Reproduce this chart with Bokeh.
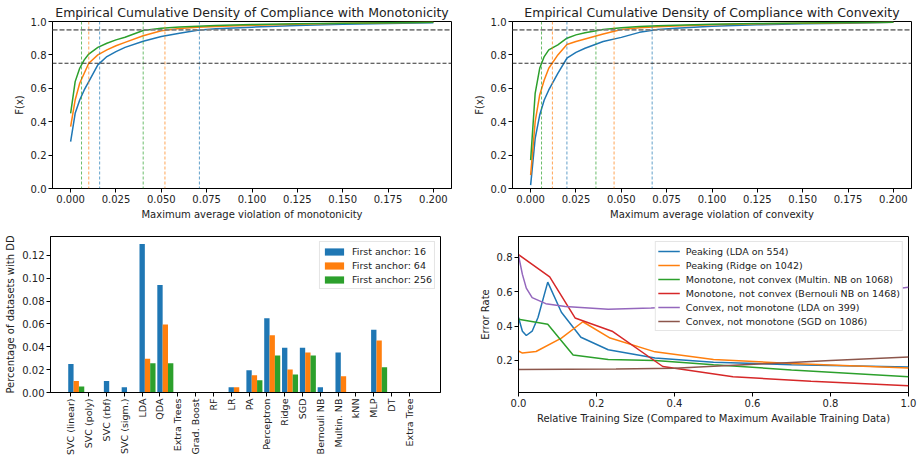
import numpy as np
from bokeh.plotting import figure
from bokeh.layouts import column, row
from bokeh.models import FixedTicker, Span, Legend, LegendItem, Range1d, NumeralTickFormatter
from bokeh.embed import file_html
from bokeh.resources import INLINE

FONT = "DejaVu Sans"
BLUE, ORANGE, GREEN, RED, PURPLE, BROWN = "#1f77b4", "#ff7f0e", "#2ca02c", "#d62728", "#9467bd", "#8c564b"

# ---------------- ECDF data ----------------
ecdf_x = [0.0, 0.0025, 0.005, 0.0075, 0.01, 0.015, 0.02, 0.025, 0.03, 0.04, 0.05,
          0.06, 0.07, 0.08, 0.10, 0.125, 0.15, 0.175, 0.20]
mono_16 = [0.28, 0.45, 0.53, 0.59, 0.64, 0.74, 0.79, 0.82, 0.845, 0.882, 0.91,
           0.93, 0.948, 0.956, 0.966, 0.976, 0.983, 0.988, 0.992]
mono_64 = [0.37, 0.53, 0.63, 0.69, 0.75, 0.80, 0.83, 0.855, 0.875, 0.915, 0.945,
           0.958, 0.965, 0.97, 0.977, 0.984, 0.989, 0.992, 0.995]
mono_256 = [0.45, 0.64, 0.72, 0.77, 0.805, 0.845, 0.87, 0.89, 0.906, 0.946, 0.96,
            0.967, 0.972, 0.976, 0.982, 0.987, 0.99, 0.993, 0.996]
conv_16 = [0.02, 0.30, 0.44, 0.53, 0.59, 0.69, 0.78, 0.815, 0.84, 0.88, 0.905,
           0.935, 0.952, 0.96, 0.972, 0.98, 0.986, 0.99, 0.995]
conv_64 = [0.08, 0.40, 0.56, 0.65, 0.72, 0.80, 0.862, 0.88, 0.895, 0.925, 0.952,
           0.962, 0.968, 0.973, 0.98, 0.986, 0.99, 0.993, 0.995]
conv_256 = [0.17, 0.57, 0.72, 0.79, 0.83, 0.86, 0.90, 0.92, 0.933, 0.952, 0.963,
            0.97, 0.975, 0.978, 0.983, 0.988, 0.991, 0.994, 0.996]
mono_q75 = [0.016, 0.010, 0.006]
mono_q95 = [0.071, 0.052, 0.040]
conv_q75 = [0.020, 0.012, 0.006]
conv_q95 = [0.067, 0.046, 0.036]
levels = [0.75, 0.95]
ecdf_xticks = [0.0, 0.025, 0.05, 0.075, 0.1, 0.125, 0.15, 0.175, 0.2]
unit_ticks = [0.0, 0.2, 0.4, 0.6, 0.8, 1.0]

# ---------------- bar data ----------------
learners = ["SVC (linear)", "SVC (poly)", "SVC (rbf)", "SVC (sigm.)", "LDA", "QDA",
            "Extra Trees", "Grad. Boost", "RF", "LR", "PA", "Perceptron", "Ridge",
            "SGD", "Bernouli NB", "Multin. NB", "kNN", "MLP", "DT", "Extra Tree"]
anchor_16 = [0.025, 0, 0.01, 0.0045, 0.13, 0.094, 0, 0, 0, 0.0045, 0.0195, 0.065,
             0.0392, 0.0392, 0.0045, 0.035, 0, 0.055, 0, 0]
anchor_64 = [0.01, 0, 0, 0, 0.0296, 0.0595, 0, 0, 0, 0.0045, 0.0152, 0.05,
             0.0201, 0.035, 0, 0.0142, 0, 0.0455, 0, 0]
anchor_256 = [0.0052, 0, 0, 0, 0.0256, 0.0256, 0, 0, 0, 0, 0.0108, 0.0323,
              0.0158, 0.0323, 0, 0, 0, 0.022, 0, 0]
bar_yticks = [0.0, 0.02, 0.04, 0.06, 0.08, 0.10, 0.12]

# ---------------- learning curves ----------------
lda554_x = [0, 0.01, 0.02, 0.035, 0.05, 0.075, 0.11, 0.16, 0.23, 0.35, 0.5, 0.7, 1.0]
lda554_y = [0.45, 0.37, 0.345, 0.37, 0.45, 0.655, 0.48, 0.335, 0.262, 0.215, 0.19, 0.175, 0.162]
ridge_x = [0, 0.01, 0.045, 0.11, 0.165, 0.235, 0.35, 0.5, 0.7, 1.0]
ridge_y = [0.255, 0.243, 0.252, 0.33, 0.425, 0.33, 0.25, 0.205, 0.183, 0.157]
multin_x = [0, 0.075, 0.14, 0.23, 0.35, 0.5, 0.7, 1.0]
multin_y = [0.44, 0.41, 0.232, 0.205, 0.2, 0.175, 0.145, 0.105]
bern_x = [0, 0.08, 0.145, 0.24, 0.37, 0.55, 0.75, 1.0]
bern_y = [0.815, 0.685, 0.447, 0.37, 0.165, 0.105, 0.08, 0.053]
lda399_x = [0, 0.01, 0.02, 0.035, 0.07, 0.12, 0.23, 0.34, 0.5, 0.7, 0.85, 1.0]
lda399_y = [0.81, 0.70, 0.62, 0.565, 0.53, 0.513, 0.497, 0.505, 0.52, 0.55, 0.585, 0.625]
sgd_x = [0, 0.25, 0.4, 0.5, 0.65, 0.8, 1.0]
sgd_y = [0.148, 0.15, 0.155, 0.167, 0.183, 0.2, 0.22]
curve_labels = ["Peaking (LDA on 554)", "Peaking (Ridge on 1042)",
                "Monotone, not convex (Multin. NB on 1068)",
                "Monotone, not convex (Bernouli NB on 1468)",
                "Convex, not monotone (LDA on 399)",
                "Convex, not monotone (SGD on 1086)"]

TICK_FS = "10px"
LABEL_FS = "10px"
TEXT = "#222222"


def style(p, xticks=None, xfmt=None, yticks=None, yfmt=None):
    p.xgrid.visible = False
    p.ygrid.visible = False
    p.outline_line_color = "black"
    p.outline_line_alpha = 1
    p.outline_line_width = 1
    p.background_fill_color = "white"
    p.border_fill_color = "white"
    for ax in (p.xaxis[0], p.yaxis[0]):
        ax.major_tick_in = 0
        ax.major_tick_out = 4
        ax.minor_tick_line_color = None
        ax.axis_line_color = "black"
        ax.major_tick_line_color = "black"
        ax.major_label_text_font = FONT
        ax.major_label_text_font_size = TICK_FS
        ax.major_label_text_color = TEXT
        ax.major_label_standoff = 2
        ax.axis_label_text_font = FONT
        ax.axis_label_text_font_size = LABEL_FS
        ax.axis_label_text_font_style = "normal"
        ax.axis_label_text_color = TEXT
        ax.axis_label_standoff = 3
    if xticks is not None:
        p.xaxis.ticker = FixedTicker(ticks=xticks)
    if xfmt is not None:
        p.xaxis.formatter = NumeralTickFormatter(format=xfmt)
    if yticks is not None:
        p.yaxis.ticker = FixedTicker(ticks=yticks)
    if yfmt is not None:
        p.yaxis.formatter = NumeralTickFormatter(format=yfmt)
    p.title.text_font = FONT
    p.title.text_font_size = "12.5px"
    p.title.text_font_style = "normal"
    p.title.text_color = TEXT
    p.title.align = "center"


def ecdf_fig(title, xlabel, series, q75, q95, width, bl, br):
    p = figure(width=width, height=226, output_backend="svg", toolbar_location=None,
               x_range=Range1d(-0.01, 0.21), y_range=Range1d(0, 1),
               title=title, min_border_left=bl, min_border_right=br,
               min_border_top=21, min_border_bottom=38)
    p.title.standoff = 3
    p.title.offset = 0
    style(p, ecdf_xticks, "0.000", [0, 0.2, 0.4, 0.6, 0.8, 1.0], "0.0")
    p.xaxis.axis_label = xlabel
    p.yaxis.axis_label = "F(x)"
    cols = [BLUE, ORANGE, GREEN]
    for ys, c in zip(series, cols):
        p.line(ecdf_x, ys, line_color=c, line_width=1.5)
    for v, c in zip(q75 + q95, cols + cols):
        p.add_layout(Span(location=v, dimension="height", line_color=c, line_alpha=0.7,
                          line_width=1, line_dash="3 2"))
    p.add_layout(Span(location=levels[0], dimension="width", line_color="#333333",
                      line_width=1.1, line_dash="4 2"))
    p.add_layout(Span(location=levels[1], dimension="width", line_color="#7f7f7f",
                      line_width=1.6, line_dash="5 2"))
    return p


p1 = ecdf_fig("Empirical Cumulative Density of Compliance with Monotonicity",
              "Maximum average violation of monotonicity",
              [mono_16, mono_64, mono_256], mono_q75, mono_q95, 460, 52, 9)
p2 = ecdf_fig("Empirical Cumulative Density of Compliance with Convexity",
              "Maximum average violation of convexity",
              [conv_16, conv_64, conv_256], conv_q75, conv_q95, 461, 52, 10)

# ---------------- bars ----------------
n = len(learners)
idx = np.arange(n)
bw = 0.3
p3 = figure(width=460, height=231, output_backend="svg", toolbar_location=None,
            x_range=Range1d(-1.145, 20.745), y_range=Range1d(0, 0.1365),
            min_border_left=50, min_border_right=20, min_border_top=10, min_border_bottom=65)
style(p3, list(range(n)), None, bar_yticks, "0.00")
p3.xaxis.major_label_overrides = {i: name for i, name in enumerate(learners)}
p3.xaxis.major_label_orientation = np.pi / 2
p3.xaxis.major_label_text_font_size = "9.5px"
p3.yaxis.axis_label = "Percentage of datasets with DD"
items = []
for k, (vals, c, lab) in enumerate(zip([anchor_16, anchor_64, anchor_256], [BLUE, ORANGE, GREEN],
                                      ["First anchor: 16", "First anchor: 64", "First anchor: 256"])):
    r = p3.vbar(x=idx + k * bw, top=vals, width=bw, fill_color=c, line_color=None)
    items.append(LegendItem(label=lab, renderers=[r]))
leg3 = Legend(items=items, location="top_right", margin=5, padding=2, spacing=0,
              label_height=14, glyph_height=9, glyph_width=24, label_standoff=6,
              label_text_font=FONT, label_text_font_size="9.5px", label_text_color=TEXT,
              border_line_color="#cccccc", background_fill_alpha=0.85)
p3.add_layout(leg3)

# ---------------- learning curves ----------------
p4 = figure(width=461, height=231, output_backend="svg", toolbar_location=None,
            x_range=Range1d(0, 1), y_range=Range1d(0.014, 0.92),
            min_border_left=58, min_border_right=13, min_border_top=10, min_border_bottom=65)
style(p4, unit_ticks, "0.0", [0.2, 0.4, 0.6, 0.8], "0.0")
p4.xaxis.axis_label = "Relative Training Size (Compared to Maximum Available Training Data)"
p4.yaxis.axis_label = "Error Rate"
items4 = []
for xs, ys, c, lab in zip([lda554_x, ridge_x, multin_x, bern_x, lda399_x, sgd_x],
                          [lda554_y, ridge_y, multin_y, bern_y, lda399_y, sgd_y],
                          [BLUE, ORANGE, GREEN, RED, PURPLE, BROWN], curve_labels):
    r = p4.line(xs, ys, line_color=c, line_width=1.5)
    items4.append(LegendItem(label=lab, renderers=[r]))
leg4 = Legend(items=items4, location="top_right", margin=5, padding=2, spacing=0,
              label_height=14, glyph_height=14, glyph_width=22, label_standoff=6,
              label_text_font=FONT, label_text_font_size="9.5px", label_text_color=TEXT,
              border_line_color="#cccccc", background_fill_alpha=1.0)
p4.add_layout(leg4)

layout = column(row(p1, p2), row(p3, p4))
open("out.html", "w").write(file_html(layout, INLINE))
